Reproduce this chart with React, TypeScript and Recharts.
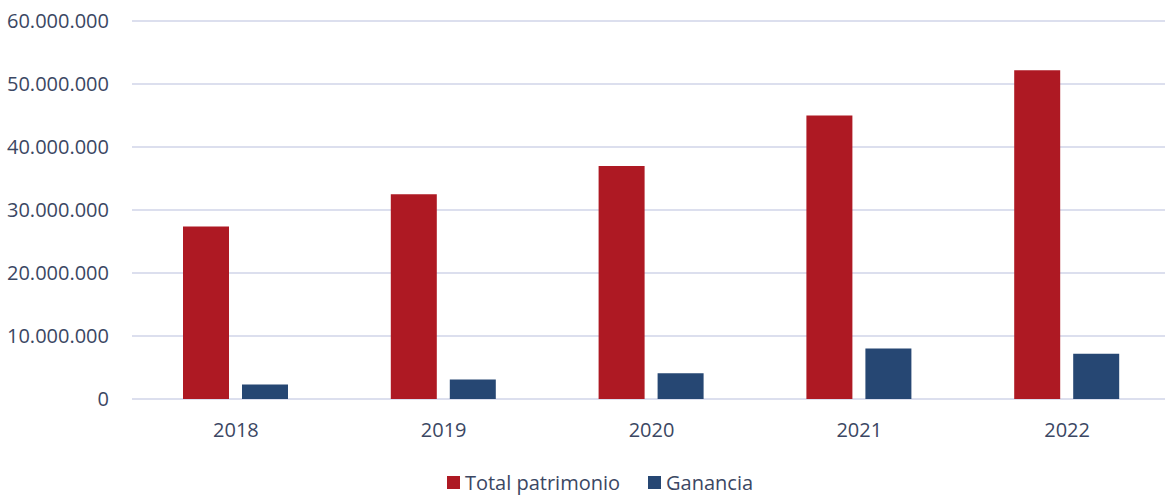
import React from "react";
import { BarChart, Bar, XAxis, YAxis, CartesianGrid, Legend } from "recharts";

const years = ["2018", "2019", "2020", "2021", "2022"];
const totalPatrimonio = [27400000, 32500000, 37000000, 45000000, 52200000];
const ganancia = [2300000, 3100000, 4100000, 8000000, 7200000];
const yTicks = [0, 10000000, 20000000, 30000000, 40000000, 50000000, 60000000];

const RED = "#ae1923";
const BLUE = "#264773";
const TEXT = "#3b4763";
const FONT = "'Open Sans', sans-serif";

const data = years.map((y, i) => ({ year: y, total: totalPatrimonio[i], gan: ganancia[i] }));

const fmt = (v: number) => v.toLocaleString("de-DE");

const LegendContent = () => (
  <div style={{ display: "flex", justifyContent: "center", alignItems: "center", fontFamily: FONT, fontSize: 20, color: TEXT }}>
    <span style={{ display: "inline-block", width: 13, height: 13, background: RED, marginRight: 5 }} />
    <span style={{ marginRight: 28 }}>Total patrimonio</span>
    <span style={{ display: "inline-block", width: 13, height: 13, background: BLUE, marginRight: 5 }} />
    <span>Ganancia</span>
  </div>
);

export default function App() {
  return (
    <div style={{ position: "absolute", left: 0, top: 0, width: 1165, height: 496, overflow: "hidden", background: "#fff" }}>
      <BarChart
        width={1171}
        height={496}
        data={data}
        margin={{ top: 21, right: 0, left: 0, bottom: 20 }}
        barCategoryGap="24.7%"
        barGap={13}
      >
        <CartesianGrid vertical={false} stroke="#dcdfee" strokeWidth={2} />
        <XAxis
          dataKey="year"
          axisLine={false}
          tickLine={false}
          tickSize={0}
          tickMargin={24}
          height={47}
          tick={{ fill: TEXT, fontSize: 20, fontFamily: FONT }}
        />
        <YAxis
          width={132}
          domain={[0, 60000000]}
          ticks={yTicks}
          tickFormatter={fmt}
          axisLine={false}
          tickLine={false}
          tickSize={0}
          tickMargin={23}
          tick={{ fill: TEXT, fontSize: 20, fontFamily: FONT }}
        />
        <Legend
          content={<LegendContent />}
          verticalAlign="bottom"
          wrapperStyle={{ position: "absolute", left: 0, width: 1200, top: 469, height: 30 }}
        />
        <Bar dataKey="total" name="Total patrimonio" fill={RED} barSize={46} isAnimationActive={false} />
        <Bar dataKey="gan" name="Ganancia" fill={BLUE} barSize={46} isAnimationActive={false} />
      </BarChart>
    </div>
  );
}
